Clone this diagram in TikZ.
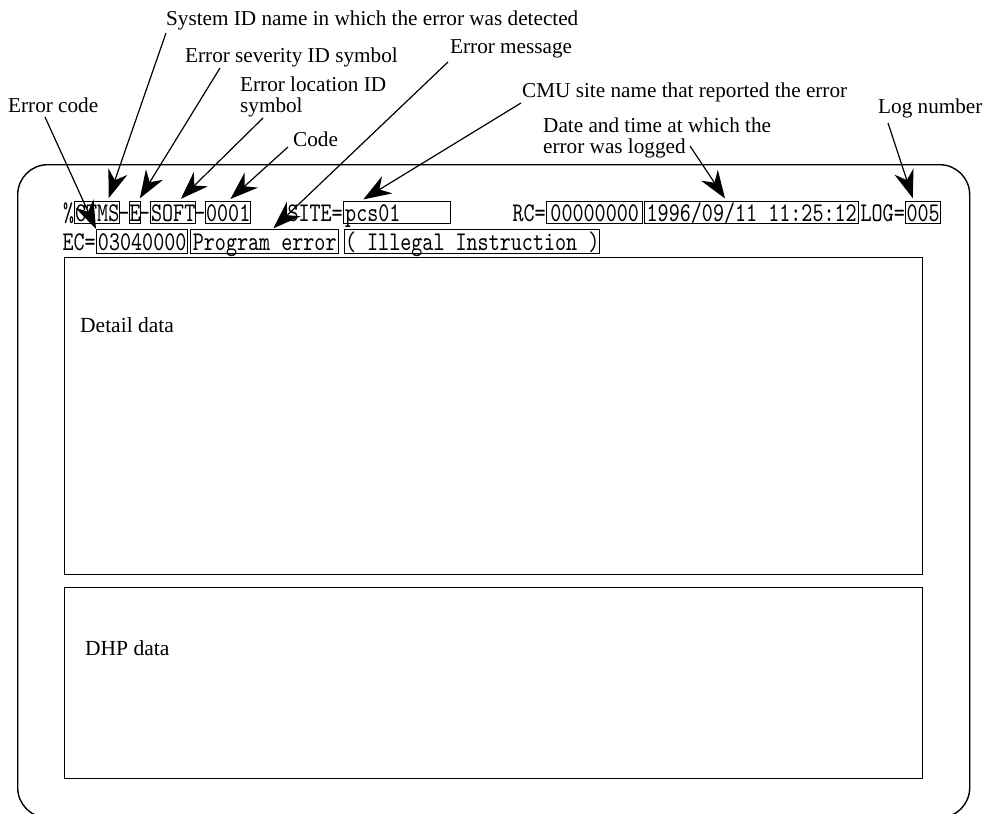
\documentclass[tikz,border=0pt]{standalone}
\usepackage{fontspec}
\setmainfont{Liberation Serif}
\newfontfamily\monof{lmmono10-regular}[Extension=.otf, FakeStretch=0.78]
\usetikzlibrary{arrows.meta,calc}
\begin{document}
\begin{tikzpicture}[x=1pt,y=-1pt,
  lbl/.style={font=\fontsize{21.2}{21}\selectfont, inner sep=0pt, anchor=west, align=left},
  mono/.style={font=\monof\fontsize{27}{27}\selectfont, inner sep=0pt},
  mb/.style={mono, draw, line width=1.4pt, anchor=north west, minimum width=#1, minimum height=22pt, text height=20pt, text depth=2pt, inner xsep=0pt, inner ysep=0pt},
  mbl/.style={mb=#1, text width=#1-3pt, align=left},
  mbt/.style={minimum height=24pt},
  big/.style={draw, line width=1.4pt, anchor=north west, inner sep=0pt},
  arr/.style={line width=1.2pt, -{Stealth[length=28pt, width=20pt, inset=9pt]}},
  dtxt/.style={font=\fontsize{21.5}{21}\selectfont, inner sep=0pt, anchor=west}
]
\useasboundingbox (0,0) rectangle (989,814);
\clip (0,0) rectangle (989,814);

% outer frame and data areas
\node[big, rounded corners=30pt, minimum width=952pt, minimum height=653pt] (frame) at (17,164) {};
\node[big, minimum width=858pt, minimum height=317pt] (det) at (64,257) {};
\node[big, minimum width=858pt, minimum height=191pt] (dhp) at (64,587) {};
\node[dtxt] (dettxt) at (80,325) {Detail data};
\node[dtxt] (dhptxt) at (85,648) {DHP data};

% row 1
\node[mono, anchor=base west] (pct) at (63,221) {\%};
\node[mb=45pt] (ctms) at (74,201) {CTMS};
\node[mono, anchor=base] (h1) at (124,221) {-};
\node[mb=10pt] (e) at (129,201) {E};
\node[mono, anchor=base] (h2) at (144.5,221) {-};
\node[mb=45pt] (soft) at (150,201) {SOFT};
\node[mono, anchor=base] (h3) at (200,221) {-};
\node[mb=45pt] (n0001) at (205,201) {0001};
\node[mono, anchor=base east] (site) at (343,221) {SITE=};
\node[mbl=107pt] (pcs) at (343,201) {pcs01};
\node[mono, anchor=base east] (rclbl) at (546,221) {RC=};
\node[mb=96pt] (rc) at (546,201) {00000000};
\node[mb=214pt] (date) at (644,201) {1996/09/11 11:25:12};
\node[mono, anchor=base east] (loglbl) at (905,221) {LOG=};
\node[mb=35pt] (log) at (905,201) {005};

% row 2
\node[mono, anchor=base east] (eclbl) at (96,250) {EC=};
\node[mb=91pt, mbt] (ec) at (96,229) {03040000};
\node[mb=148pt, mbt] (msg) at (190,229) {Program error};
\node[mb=255pt, mbt] (ill) at (344,229) {( Illegal Instruction )};

% labels
\node[lbl] (lsys) at (166,20) {System ID name in which the error was detected};
\node[lbl] (lsev) at (185,57) {Error severity ID symbol};
\node[lbl] (lloc) at (240,96.5) {Error location ID\\symbol};
\node[lbl] (lcode) at (293,139) {Code};
\node[lbl] (lmsg) at (450,49) {Error message};
\node[lbl] (lecode) at (8,105) {Error code};
\node[lbl] (lcmu) at (522,92) {CMU site name that reported the error};
\node[lbl] (ldate) at (543,137.5) {Date and time at which the\\error was logged};
\node[lbl] (llog) at (878,108) {Log number};

% arrow start points
\coordinate (ssys) at (166,33);
\coordinate (ssev) at (220,68);
\coordinate (sloc) at (263,118);
\coordinate (scode) at (288,147);
\coordinate (smsg) at (448,62);
\coordinate (secode) at (45,117);
\coordinate (scmu) at (521,103);
\coordinate (sdate) at (690,146);
\coordinate (slog) at (888,123);

% arrows
\draw[arr, shorten >=3pt] (ssys) -- ([xshift=10.5pt]ctms.north);
\draw[arr, shorten >=3pt] (ssev) -- ([xshift=3pt]e.north);
\draw[arr, shorten >=3pt] (sloc) -- ([xshift=5.5pt]soft.north);
\draw[arr, shorten >=3pt] (scode) -- (n0001.north);
\draw[arr, shorten >=1pt] (smsg) -- ([xshift=8pt]msg.north);
\draw[arr] (secode) -- (ec.north west);
\draw[arr, shorten >=3pt] (scmu) -- ([xshift=-36.5pt]pcs.north);
\draw[arr, shorten >=3pt] (sdate) -- ([xshift=-25pt]date.north);
\draw[arr, shorten >=3pt] (slog) -- ([xshift=-9.5pt]log.north);
\end{tikzpicture}
\end{document}
